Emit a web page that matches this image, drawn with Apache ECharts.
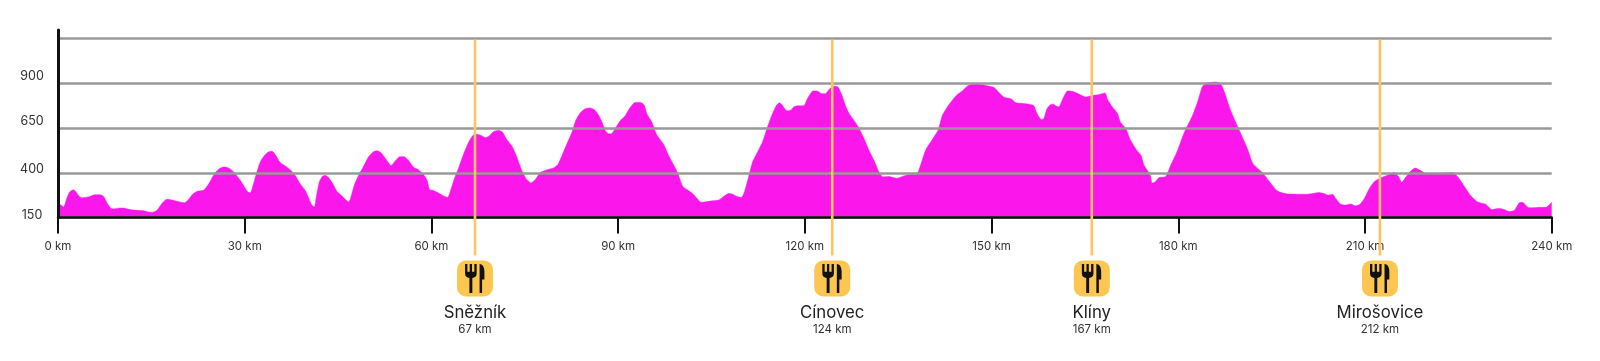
<!DOCTYPE html>
<html>
<head>
<meta charset="utf-8">
<style>html,body{margin:0;padding:0;background:#fff}#c{width:1600px;height:361px}</style>
<script src="https://cdn.jsdelivr.net/npm/echarts@6/dist/echarts.min.js"></script>
</head>
<body>
<div id="c"></div>
<script>
const distanceKm = [
0,.3,.9,1.4,1.9,2.5,2.8,3.4,3.9,4.9,5.9,6.8,7.4,7.8,8.4,8.9,9.7,10.5,11.6,12.6,13.7,14.5,15.2,15.9,16.7,17.5,18.3,19.3,20.3,21,21.6,22.3,23.4,24.2,25,25.8,26.6,27.4,28.2,29,29.8,30.5,30.9,31.2,31.8,32.5,33.2,33.8,34.4,34.9,35.7,36.5,37.3,38.1,38.9,39.7,
40.2,40.8,41.2,41.5,42,42.5,43,43.6,44.3,44.8,45.6,46.3,46.7,47,47.6,48.3,49.1,49.9,50.7,51.3,51.9,52.7,53.5,54.2,54.9,55.6,56.3,57.1,57.9,58.7,59.3,59.7,60.3,61.1,61.9,62.6,63.1,63.7,64.4,65.2,66,66.7,67.3,68,68.7,69.3,70,70.8,71.4,72,73,73.7,74.5,75.2,76,76.7,77.5,78.6,79.6,
80.3,81,81.8,82.6,83.2,83.9,84.7,85.5,86.2,86.8,87.4,88,88.5,89,89.7,90.4,91.1,91.8,92.7,93.6,94.2,94.6,95.4,96.2,97.3,98.1,99.1,99.7,100.4,101.2,102.1,102.7,103.3,104,105.1,106.2,107,107.8,108.4,109.1,109.8,110.3,110.9,111.6,112.4,113.2,113.9,114.7,115.4,115.9,116.3,117.1,117.7,118.2,119,119.8,120.4,120.9,
121.3,122,122.7,123.3,124,124.7,125.3,126,126.6,127.3,128.6,129.5,130.3,131.1,131.9,132.5,133.5,134.8,135.9,137,137.9,138.6,139.4,140.4,141.4,142.1,142.9,143.7,144.5,145.3,146.1,147.2,148.2,149.3,150.4,151.2,152,153.1,153.9,154.9,156,156.8,157.3,158,158.4,158.9,159.5,160,
160.3,160.8,161.5,162.2,163,164,165.2,166.2,167.3,168.2,168.7,169.4,170.2,170.7,171.6,172.2,173.2,174,174.5,175.5,175.8,176.3,176.9,178,178.8,179.9,180.9,182.3,183.1,183.9,184.7,186,186.8,187.4,188.4,189.8,191.1,192,193.5,194.6,195.9,197.3,198.9,
200.5,201.6,202.6,203.4,204.1,204.8,205.3,206.1,206.9,207.7,208.5,209.2,209.9,210.7,211.5,212.4,213.6,214.7,215.4,215.9,216.6,217.4,218.1,219,219.9,221.1,222.7,224.1,224.9,226,227,228.1,229.4,230.4,231.3,232.1,233.3,234,234.8,235.3,236.3,237.2,238,239.1,240
];
const elevationM = [
232,224,209,256,294,305,297,269,260,265,277,277,265,237,205,198,202,203,194,190,188,181,179,190,228,252,248,239,232,252,279,295,303,337,386,420,432,427,406,372,330,292,288,312,386,460,498,516,520,502,457,438,417,386,339,302,
265,218,209,265,350,381,384,368,330,297,271,247,237,256,330,386,436,489,518,523,512,475,440,466,490,490,470,432,417,392,358,307,301,288,271,262,303,368,430,507,572,610,615,608,596,606,630,638,628,592,545,489,414,368,343,362,401,417,427,
445,498,563,628,693,734,758,762,752,725,684,632,617,619,657,693,717,758,792,793,778,731,684,613,559,498,432,386,322,303,279,256,235,237,243,248,269,284,280,267,262,294,368,460,516,572,646,721,774,791,781,746,749,768,774,774,814,842,
857,857,842,842,870,884,880,829,768,721,656,591,526,470,405,377,379,369,382,390,388,443,526,581,637,721,768,805,837,857,884,897,893,886,876,848,822,814,791,788,783,774,731,697,703,758,781,783,
774,768,818,857,855,840,823,831,837,846,805,768,734,684,646,591,532,498,443,386,343,349,373,379,443,526,619,721,795,883,902,907,898,852,749,637,536,451,402,353,299,282,280,
280,284,290,284,275,280,256,224,220,226,215,224,256,312,350,369,386,401,377,346,377,411,426,411,394,396,398,401,377,322,271,237,224,194,200,198,183,190,233,235,205,205,207,207,235
];
const yTickValues = [150, 400, 650, 900, 1150];
const yTickLabels = ['150', '400', '650', '900', ''];
const xTickStep = 30;
const stopNames = ['Sněžník', 'Cínovec', 'Klíny', 'Mirošovice'];
const stopLabels = ['67 km', '124 km', '167 km', '212 km'];
const stopPositions = [67, 124.4, 166.1, 212.4];

const FONT = 'Inter, "Noto Sans", sans-serif';
const series = distanceKm.map((d, i) => [d, elevationM[i]]);
const ICON = 'M0 0h2.4v8h2.4V0h2.4v8h2.4V0H12v10c0 2.5-2 4-4.5 4.4V30h-3V14.4C2 14 0 12.5 0 10Z M15 0c3 0 5 3 5 8v8h-2.4V30H15Z';

const chart = echarts.init(document.getElementById('c'));
chart.setOption({
  animation: false,
  backgroundColor: '#fff',
  grid: { left: 58, width: 1493.7, top: 30, height: 187.5 },
  xAxis: {
    type: 'value', min: 0, max: 240, interval: xTickStep, z: 4,
    axisLine: { lineStyle: { color: '#111', width: 2.5 } },
    axisTick: { length: 16, lineStyle: { color: '#111', width: 2 } },
    axisLabel: { margin: 23, fontFamily: FONT, fontSize: 11.5, color: '#333', formatter: v => v + ' km', hideOverlap: false, showMinLabel: true, showMaxLabel: true },
    splitLine: { show: false }
  },
  yAxis: {
    type: 'value', min: 150, max: 1197.6, z: 4,
    axisLine: { show: true, onZero: false, lineStyle: { color: '#111', width: 3 } },
    axisTick: { show: false, customValues: yTickValues },
    splitLine: { show: true, lineStyle: { color: '#999', width: 2.5 } },
    axisLabel: {
      customValues: yTickValues, margin: 26, align: 'center', fontFamily: FONT, fontSize: 12.5, color: '#333',
      formatter: v => {
        const t = yTickLabels[yTickValues.indexOf(v)];
        return t ? '{l' + t + '|' + t + '}' : '';
      },
      rich: {
        l150: { padding: [0, 0, 5, 0], fontFamily: FONT, fontSize: 12.5, color: '#333' },
        l400: { padding: [0, 0, 8, 0], fontFamily: FONT, fontSize: 12.5, color: '#333' },
        l650: { padding: [0, 0, 14, 0], fontFamily: FONT, fontSize: 12.5, color: '#333' },
        l900: { padding: [0, 0, 14, 0], fontFamily: FONT, fontSize: 12.5, color: '#333' }
      }
    }
  },
  series: [
    {
      type: 'line', data: series, symbol: 'none', smooth: 0.2, z: 2,
      lineStyle: { color: '#FB16EB', width: 0.5 },
      areaStyle: { color: '#FB16EB', opacity: 1 }
    },
    {
      type: 'custom', z: 5, clip: false,
      data: stopPositions.map(p => [p, 1150]),
      renderItem: (params, api) => {
        const top = api.coord([api.value(0), api.value(1)]);
        const base = api.coord([api.value(0), 150]);
        const x = top[0], b = base[1];
        return {
          type: 'group',
          children: [
            { type: 'line', shape: { x1: x, y1: top[1] + 1, x2: x, y2: b + 38 }, style: { stroke: '#FCC463', lineWidth: 2.6 } },
            { type: 'rect', shape: { x: x - 18, y: b + 43, width: 36, height: 36, r: 9 }, style: { fill: '#FDC650' } },
            { type: 'path', shape: { pathData: ICON, x: x - 10, y: b + 46.5, width: 19.5, height: 29 }, style: { fill: '#111' } },
            { type: 'text', style: { text: stopNames[params.dataIndex], x: x, y: b + 95, align: 'center', verticalAlign: 'middle', fontFamily: FONT, fontSize: 16.8, fill: '#222' } },
            { type: 'text', style: { text: stopLabels[params.dataIndex], x: x, y: b + 112, align: 'center', verticalAlign: 'middle', fontFamily: FONT, fontSize: 11.5, fill: '#333' } }
          ]
        };
      }
    }
  ]
});
</script>
</body>
</html>
